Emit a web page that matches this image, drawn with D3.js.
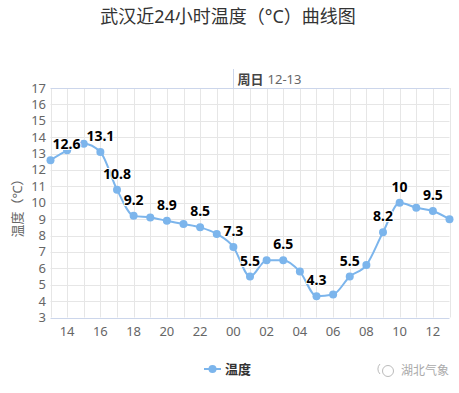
<!DOCTYPE html>
<html>
<head>
<meta charset="utf-8">
<script src="https://cdn.jsdelivr.net/npm/d3@7"></script>
<style>
  body { margin: 0; background: #fff; }
  svg { display: block; font-family: "Noto Sans", "Noto Sans CJK SC", sans-serif; }
</style>
</head>
<body>
<div id="chart"></div>
<script>
// data
var hours = ["13","14","15","16","17","18","19","20","21","22","23",
             "00","01","02","03","04","05","06","07","08","09","10","11","12","13"];
var temps = [12.6, 13.2, 13.6, 13.1, 10.8, 9.2, 9.1, 8.9, 8.7, 8.5, 8.1,
             7.3, 5.5, 6.5, 6.5, 5.8, 4.3, 4.4, 5.5, 6.2, 8.2, 10, 9.7, 9.5, 9.0];
// indexes of points that show a value label
var labelled = [0, 3, 4, 5, 7, 9, 11, 12, 14, 16, 18, 20, 21, 23];
var yTicks = d3.range(3, 18);
var titleText = "武汉近24小时温度（°C）曲线图";
var seriesName = "温度";
var yTitle = "温度（℃）";
var dayLabel = ["周日", "12-13"];

var width = 459, height = 393;
var plot = {left: 50.5, right: 449.5, top: 88, bottom: 317.5};

var svg = d3.select("#chart").append("svg")
    .attr("width", width)
    .attr("height", height);

var x = d3.scaleLinear().domain([0, hours.length - 1]).range([plot.left, plot.right]);
var y = d3.scaleLinear().domain([3, 17]).range([plot.bottom, plot.top]);

// title
svg.append("text")
    .attr("x", 228)
    .attr("y", 23)
    .attr("text-anchor", "middle")
    .style("font-size", "18px")
    .style("fill", "#333")
    .text(titleText);

// grid
svg.append("g")
  .selectAll("line")
  .data(d3.range(hours.length))
  .enter().append("line")
    .attr("x1", function(d) { return Math.round(x(d)) + 0.5; })
    .attr("x2", function(d) { return Math.round(x(d)) + 0.5; })
    .attr("y1", plot.top)
    .attr("y2", plot.bottom)
    .style("stroke", "#e6e6e6");

svg.append("g")
  .selectAll("line")
  .data(yTicks)
  .enter().append("line")
    .attr("x1", plot.left)
    .attr("x2", plot.right)
    .attr("y1", function(d) { return Math.round(y(d)) + 0.5; })
    .attr("y2", function(d) { return Math.round(y(d)) + 0.5; })
    .style("stroke", function(d) { return d == 3 || d == 17 ? "#ccd6eb" : "#e6e6e6"; });

// y tick labels
svg.append("g")
  .selectAll("text")
  .data(yTicks)
  .enter().append("text")
    .attr("x", 46)
    .attr("y", function(d) { return y(d) + 4.5; })
    .attr("text-anchor", "end")
    .style("font-size", "13px")
    .style("fill", "#666")
    .text(function(d) { return d; });

// y title
svg.append("text")
    .attr("transform", "translate(22,205) rotate(-90)")
    .attr("text-anchor", "middle")
    .style("font-size", "13px")
    .style("fill", "#666")
    .text(yTitle);

// x tick labels every 2 hours
svg.append("g")
  .selectAll("text")
  .data(d3.range(1, hours.length, 2))
  .enter().append("text")
    .attr("x", function(d) { return x(d); })
    .attr("y", 336)
    .attr("text-anchor", "middle")
    .style("font-size", "13px")
    .style("fill", "#666")
    .text(function(d) { return hours[d]; });

// day marker at midnight
var mid = Math.round(x(hours.indexOf("00"))) + 0.5;
svg.append("line")
    .attr("x1", mid).attr("x2", mid)
    .attr("y1", 69).attr("y2", plot.top)
    .style("stroke", "#ccd6eb");
var day = svg.append("text")
    .attr("x", mid + 4)
    .attr("y", 84)
    .style("font-size", "13px")
    .style("fill", "#666");
day.append("tspan").style("font-weight", "bold").style("fill", "#444").text(dayLabel[0]);
day.append("tspan").attr("dx", 4).text(dayLabel[1]);

// line
var line = d3.line()
    .x(function(d, i) { return x(i); })
    .y(function(d) { return y(d); })
    .curve(d3.curveMonotoneX);

svg.append("path")
    .datum(temps)
    .attr("d", line)
    .style("fill", "none")
    .style("stroke", "#7cb5ec")
    .style("stroke-width", 2);

svg.append("g")
  .selectAll("circle")
  .data(temps)
  .enter().append("circle")
    .attr("cx", function(d, i) { return x(i); })
    .attr("cy", function(d) { return y(d); })
    .attr("r", 4)
    .style("fill", "#7cb5ec");

// value labels, kept inside the plot
var labels = svg.append("g")
  .selectAll("text")
  .data(labelled)
  .enter().append("text")
    .attr("y", function(i) { return y(temps[i]) - 11; })
    .style("font-size", "14px")
    .style("font-weight", "bold")
    .style("fill", "#000")
    .style("stroke", "#fff")
    .style("stroke-width", 2)
    .style("paint-order", "stroke")
    .text(function(i) { return temps[i]; });

labels.each(function(i) {
  var w = this.getComputedTextLength();
  var left = x(i) - w / 2;
  if (left < plot.left + 2) left = plot.left + 2;
  if (left + w > plot.right - 2) left = plot.right - 2 - w;
  d3.select(this).attr("x", left);
});

// legend
svg.append("line")
    .attr("x1", 204).attr("x2", 221)
    .attr("y1", 369).attr("y2", 369)
    .style("stroke", "#7cb5ec")
    .style("stroke-width", 2);
svg.append("circle")
    .attr("cx", 212.5).attr("cy", 369).attr("r", 4)
    .style("fill", "#7cb5ec");
svg.append("text")
    .attr("x", 225)
    .attr("y", 374)
    .style("font-size", "13px")
    .style("font-weight", "bold")
    .style("fill", "#333")
    .text(seriesName);

// watermark
svg.append("path")
    .attr("d", "M380,364 A7,7 0 0,0 380,374")
    .style("fill", "none")
    .style("stroke", "#bbb");
svg.append("circle")
    .attr("cx", 388).attr("cy", 371).attr("r", 5.5)
    .style("fill", "none")
    .style("stroke", "#bbb");
svg.append("text")
    .attr("x", 401)
    .attr("y", 375)
    .style("font-size", "12px")
    .style("fill", "#aaa")
    .text("湖北气象");
</script>
</body>
</html>
